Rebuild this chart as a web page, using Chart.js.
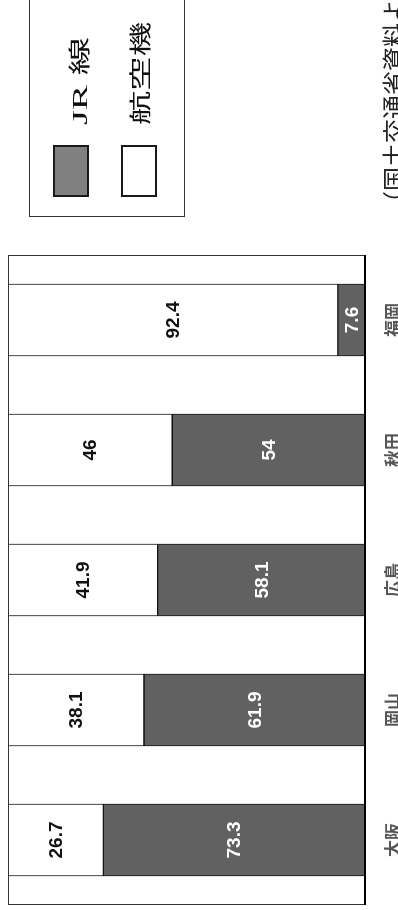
<!DOCTYPE html>
<html lang="ja">
<head>
<meta charset="UTF-8">
<title>JR線と航空機の利用割合</title>
<script src="https://cdn.jsdelivr.net/npm/chart.js"></script>
<style>
  html, body { margin: 0; padding: 0; background: #fff; overflow: hidden; }
  /* the chart is laid out 910x398 and turned a quarter turn to fit the page */
  #stage { position: absolute; left: 0; top: 0; width: 910px; height: 398px;
           transform-origin: 0 0; transform: translateY(910px) rotate(-90deg); }
</style>
</head>
<body>
<div id="stage"><canvas id="shareChart" width="910" height="398"></canvas></div>
<script>
// 東京からの各都市への旅客シェア (%)
const cities = ['大阪', '岡山', '広島', '秋田', '福岡'];
const jrShare = [73.3, 61.9, 58.1, 54, 7.6];
const airShare = [26.7, 38.1, 41.9, 46, 92.4];
const seriesNames = ['JR 線', '航空機'];
const sourceNote = '（国土交通省資料より作成）';

const ctx = document.getElementById('shareChart').getContext('2d');

// 数値ラベルと枠線
const valueLabels = {
    id: 'valueLabels',
    afterDatasetsDraw(chart) {
        const c = chart.ctx;
        const area = chart.chartArea;
        c.save();
        c.font = 'bold 19px "Liberation Sans", Arial, sans-serif';
        c.textAlign = 'center';
        c.textBaseline = 'middle';
        chart.data.datasets.forEach((ds, i) => {
            chart.getDatasetMeta(i).data.forEach((bar, j) => {
                const p = bar.getProps(['x', 'y', 'base'], true);
                c.fillStyle = i === 0 ? '#ffffff' : '#111111';
                c.fillText(String(ds.data[j]), p.x, (p.y + p.base) / 2 + 1);
            });
        });
        // 枠
        c.strokeStyle = '#333';
        c.lineWidth = 1;
        c.strokeRect(area.left + 0.5, area.top + 0.5, area.right - area.left - 1, area.bottom - area.top);
        c.strokeStyle = '#000';
        c.lineWidth = 2;
        c.beginPath();
        c.moveTo(area.left, area.bottom);
        c.lineTo(area.right, area.bottom);
        c.stroke();
        c.restore();
    }
};

function stretchText(c, text, x, y, width) {
    const w = c.measureText(text).width;
    c.save();
    c.translate(x, y);
    c.scale(width / w, 1);
    c.fillText(text, 0, 0);
    c.restore();
}

// 凡例と出典
const boxLegend = {
    id: 'boxLegend',
    afterDraw(chart) {
        const c = chart.ctx;
        c.save();
        c.strokeStyle = '#333';
        c.lineWidth = 1;
        c.strokeRect(693.5, 29.5, 300, 155);

        const swatches = [
            { fill: '#808080', top: 53, textY: 81, textW: 88 },
            { fill: '#ffffff', top: 121, textY: 142, textW: 103 }
        ];
        c.font = '22px "Liberation Serif", "Noto Sans CJK JP", serif';
        c.textAlign = 'left';
        c.textBaseline = 'middle';
        swatches.forEach((s, i) => {
            c.fillStyle = s.fill;
            c.fillRect(713, s.top, 52, 36);
            c.strokeStyle = '#1a1a1a';
            c.lineWidth = 2;
            c.strokeRect(714, s.top + 1, 50, 34);
            c.fillStyle = '#111';
            stretchText(c, seriesNames[i], 785, s.textY, s.textW);
        });

        c.font = '24px "Liberation Serif", "Noto Sans CJK JP", serif';
        c.textBaseline = 'top';
        c.fillStyle = '#222';
        c.fillText(sourceNote, 695, 385);
        c.restore();
    }
};

new Chart(ctx, {
    type: 'bar',
    data: {
        labels: cities,
        datasets: [{
            label: seriesNames[0],
            data: jrShare,
            backgroundColor: '#616161',
            borderColor: '#111'
        }, {
            label: seriesNames[1],
            data: airShare,
            backgroundColor: '#ffffff',
            borderColor: '#111'
        }]
    },
    options: {
        responsive: false,
        devicePixelRatio: 1,
        animation: false,
        layout: { padding: { left: 5, right: 255, top: 8, bottom: 0 } },
        datasets: {
            bar: {
                barThickness: 72,
                borderWidth: 1,
                borderSkipped: false
            }
        },
        scales: {
            x: {
                stacked: true,
                grid: { display: false },
                border: { display: false },
                ticks: {
                    color: '#555',
                    padding: 9,
                    font: { family: '"Noto Sans CJK JP", sans-serif', size: 17, weight: 'bold' }
                },
                afterFit(scale) { scale.height = 33; }
            },
            y: {
                stacked: true,
                min: 0,
                max: 100,
                display: false
            }
        },
        plugins: {
            legend: { display: false },
            tooltip: { enabled: false }
        }
    },
    plugins: [valueLabels, boxLegend]
});
</script>
</body>
</html>
